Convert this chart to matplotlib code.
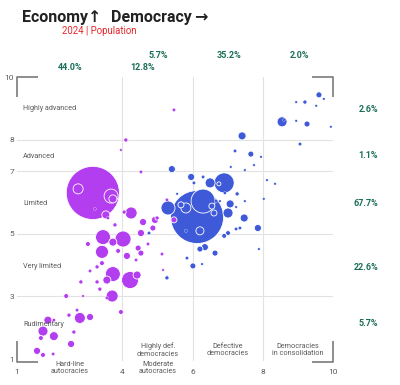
import matplotlib
matplotlib.use("Agg")
import matplotlib.pyplot as plt
import numpy as np

plt.rcParams['font.family'] = ['Roboto', 'DejaVu Sans']

# ---------------- data ----------------
# autocracies (purple): democracy score, economy score, population (millions)
aut_x = [3.16, 2.74, 3.68, 3.73, 3.22, 3.53, 3.59, 5.47, 4.10, 3.96, 4.53, 4.25, 4.05, 3.79, 4.59, 4.93,
         4.87, 4.99, 4.53, 5.27, 5.47, 5.13, 5.16, 3.02, 3.45, 4.02, 3.73, 4.73, 3.42, 3.88, 4.13, 4.45,
         4.53, 4.39, 3.42, 3.08, 3.73, 4.22, 4.42, 3.56, 2.82, 3.28, 3.36, 3.71, 3.56, 2.88, 2.40, 3.96,
         2.71, 2.48, 2.79, 3.08, 1.88, 2.05, 1.74, 1.68, 2.05, 2.62, 2.54, 1.57, 1.74, 2.03, 3.28]
aut_y = [6.30, 6.43, 6.20, 6.11, 5.79, 5.60, 5.50, 8.95, 7.99, 7.67, 6.97, 5.66, 5.69, 5.28, 5.37, 5.44,
         5.18, 5.50, 5.02, 6.08, 5.44, 4.35, 3.84, 4.67, 4.89, 4.83, 4.73, 4.67, 4.42, 4.45, 4.29, 4.54,
         4.38, 4.16, 4.06, 3.81, 3.71, 3.52, 3.68, 3.52, 3.46, 3.46, 3.23, 3.01, 2.95, 3.01, 3.01, 2.50,
         2.56, 2.40, 2.31, 2.34, 2.24, 2.24, 1.89, 1.67, 1.73, 1.86, 1.48, 1.26, 1.13, 1.16, 3.94]
aut_pop = [1410, 50, 98, 32, 4.5, 32, 4.5, 5, 9, 3, 5, 72, 9, 9, 25, 25,
           18, 9, 25, 5, 18, 5, 3, 12, 112, 128, 32, 5, 85, 12, 25, 18,
           18, 5, 12, 5, 112, 145, 32, 32, 9, 9, 9, 72, 4.5, 3, 12, 12,
           5, 9, 60, 25, 32, 5, 50, 12, 40, 9, 25, 25, 12, 5, 9]

# democracies (blue)
dem_x = [6.13, 6.30, 5.30, 5.81, 5.67, 6.55, 6.61, 6.21, 5.81, 5.41, 5.96, 6.04, 6.30, 6.50, 6.90, 5.56,
         7.27, 7.07, 7.01, 7.47, 7.86, 7.24, 7.35, 7.01, 6.90, 6.35, 6.21, 6.64, 5.84, 6.27, 6.01, 7.89,
         5.27, 4.76, 7.41, 7.21, 7.66, 7.95, 7.09, 7.75, 7.49, 8.12, 8.35, 8.03, 9.60, 9.20, 8.95, 9.52,
         9.74, 8.55, 8.60, 8.95, 9.26, 9.94, 9.06, 7.24, 7.49, 6.67, 6.78, 6.75, 6.92]
dem_y = [5.53, 6.04, 5.82, 5.82, 5.92, 5.88, 5.66, 5.09, 5.09, 7.06, 6.81, 6.62, 6.81, 6.62, 6.62, 6.27,
         6.27, 5.95, 5.66, 5.50, 5.18, 5.15, 5.18, 5.02, 4.93, 4.57, 4.51, 4.38, 4.22, 4.03, 3.97, 4.51,
         3.59, 5.02, 8.12, 7.64, 7.54, 7.45, 7.13, 7.19, 7.03, 6.71, 6.59, 6.11, 9.43, 9.20, 9.20, 9.08,
         9.30, 8.57, 8.63, 8.60, 8.50, 8.41, 7.86, 5.85, 6.04, 6.04, 6.04, 6.59, 6.30]
dem_pop = [1400, 288, 98, 50, 18, 18, 18, 32, 5, 25, 25, 5, 5, 50, 200, 3,
           9, 32, 50, 32, 25, 5, 5, 12, 12, 25, 18, 18, 5, 3, 18, 3,
           9, 5, 32, 5, 18, 3, 3, 3, 3, 3, 3, 3, 18, 9, 3, 3,
           3, 50, 4.5, 3, 18, 3, 5, 3, 3, 5, 3, 8, 4.5]

y_ticks = [1, 3, 5, 7, 8, 10]
x_ticks = [1, 4, 6, 8, 10]
econ_labels = ["Highly advanced", "Advanced", "Limited", "Very limited", "Rudimentary"]
econ_shares = ["2.6%", "1.1%", "67.7%", "22.6%", "5.7%"]
regime_shares = ["44.0%", "12.8%", "5.7%", "35.2%", "2.0%"]

PURPLE = "#b23ef0"
BLUE = "#3f5ad8"
GREEN = "#1b6e58"
GRAY = "#5a5a5a"
NARROW = ['Liberation Sans Narrow', 'Roboto', 'DejaVu Sans']

W, H = 400, 385
fig = plt.figure(figsize=(W / 100, H / 100), dpi=100)
ax = fig.add_axes([17 / W, 26 / H, 316 / W, 282 / H])
ax.set_xlim(1, 10)
ax.set_ylim(1, 10)
for s in ax.spines.values():
    s.set_visible(False)
ax.set_xticks(x_ticks)
ax.set_yticks(y_ticks)
ax.tick_params(length=0, labelsize=6, colors=GRAY, pad=2)
ax.tick_params(axis='x', pad=7)

# grid lines
for yv in [3, 5, 7, 8]:
    ax.axhline(yv, color="#e2e2e2", lw=0.8, zorder=0)
for xv in [4, 6, 8]:
    ax.plot([xv, xv], [0.96, 10], color="#e2e2e2", lw=0.8, zorder=0, clip_on=False)

# corner brackets
bk = dict(color="#7a7a7a", lw=1.2, clip_on=False, zorder=1, solid_capstyle='butt')
ax.plot([1, 1, 1.6], [9.36, 10, 10], **bk)
ax.plot([9.4, 10, 10], [10, 10, 9.36], **bk)
ax.plot([1, 1, 1.6], [1.58, 0.92, 0.92], **bk)
ax.plot([9.4, 10, 10], [0.92, 0.92, 1.58], **bk)

# bubbles
xs = np.array(aut_x + dem_x)
ys = np.array(aut_y + dem_y)
pops = np.array(aut_pop + dem_pop, dtype=float)
cols = np.array([PURPLE] * len(aut_x) + [BLUE] * len(dem_x))
order = np.argsort(-pops, kind="stable")
lws = np.where(pops[order] < 6, 0.2, 0.6)
ax.scatter(xs[order], ys[order], s=pops[order] * 1.04, c=cols[order],
           edgecolors="white", linewidths=lws, zorder=3, clip_on=False)

def ftext(px, py, s, **kw):
    fig.text(px / W, 1 - py / H, s, **kw)

# title
tk = dict(fontsize=11.5, fontweight="bold", color="#222222", va="baseline", ha="left")
ftext(22, 22, "Economy", family=NARROW, **tk)
ftext(88, 22, "↑", family=['DejaVu Sans'], **tk)
ftext(111, 22, "Democracy", family=NARROW, **tk)
ftext(194, 22, "→", family=['DejaVu Sans'], **tk)
ftext(62, 34, "2024 | Population", fontsize=6.9, color="#e8262b", va="baseline", ha="left")

# regime shares (top)
top_pos = [(70, 67), (143, 67), (158, 56), (229, 56), (299, 56)]
for (px, py), s in zip(top_pos, regime_shares):
    ftext(px, py, s, fontsize=6.5, fontweight="bold", color=GREEN, ha="center", va="center")

# economy shares (right)
right_y = [109, 156, 204, 267, 324]
for py, s in zip(right_y, econ_shares):
    ftext(378, py, s, fontsize=6.5, fontweight="bold", color=GREEN, ha="right", va="center")

# economy labels
for py, s in zip(right_y, econ_labels):
    ftext(23, py, s, fontsize=5.2, color=GRAY, ha="left", va="center")

# regime labels (bottom)
lab = dict(fontsize=5.2, color=GRAY, ha="center", va="center", linespacing=1.05)
ftext(70, 368, "Hard-line\nautocracies", **lab)
ftext(158, 368, "Moderate\nautocracies", **lab)
ftext(158, 350, "Highly def.\ndemocracies", **lab)
ftext(228, 350, "Defective\ndemocracies", **lab)
ftext(298, 350, "Democracies\nin consolidation", **lab)

fig.savefig("out.png", dpi=100, facecolor="white")
